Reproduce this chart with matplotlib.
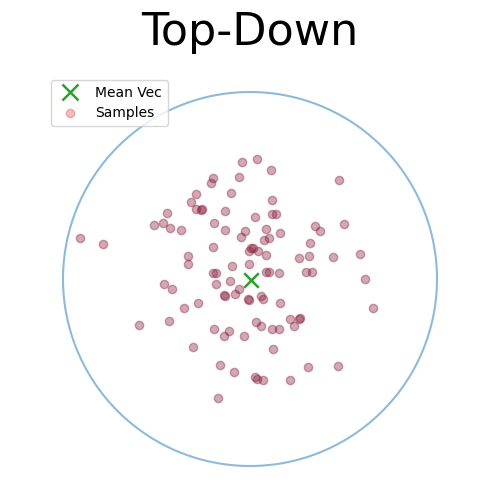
import numpy as np
import matplotlib
matplotlib.use("Agg")
import matplotlib.pyplot as plt
from matplotlib.lines import Line2D

# Sample positions (unit-circle coordinates, top-down projection)
sample_x = [-0.044, 0.036, 0.111, -0.199, -0.207, -0.057, 0.476, -0.287, -0.100, -0.316,
            0.119, -0.290, -0.262, -0.257, -0.135, -0.445, 0.116, 0.141, 0.028, 0.504,
            -0.464, -0.513, -0.426, -0.371, -0.194, 0.346, 0.376, 0.087, -0.025, -0.135,
            0.160, -0.907, -0.784, -0.050, 0.100, 0.076, 0.322, -0.199, 0.018, 0.008,
            0.044, -0.004, -0.330, -0.330, 0.086, 0.264, 0.317, 0.445, 0.590, -0.005,
            -0.098, -0.199, -0.180, 0.086, 0.104, 0.153, 0.298, 0.332, 0.617, -0.183,
            -0.105, -0.458, -0.417, -0.057, -0.139, -0.134, -0.080, -0.009, -0.006, 0.059,
            0.071, -0.276, 0.160, -0.351, 0.659, 0.216, 0.264, 0.266, -0.592, -0.432,
            0.032, 0.057, 0.119, 0.157, 0.237, -0.194, -0.111, -0.141, -0.030, -0.303,
            0.125, -0.159, -0.084, 0.027, 0.036, 0.071, 0.216, 0.312, 0.472, -0.170]
sample_y = [0.624, 0.640, 0.583, 0.540, 0.512, 0.544, 0.528, 0.455, 0.458, 0.410,
            0.421, 0.373, 0.367, 0.372, 0.362, 0.351, 0.348, 0.348, 0.330, 0.293,
            0.298, 0.287, 0.271, 0.262, 0.298, 0.282, 0.255, 0.269, 0.255, 0.262,
            0.244, 0.218, 0.186, 0.223, 0.218, 0.209, 0.191, 0.173, 0.164, 0.168,
            0.150, 0.151, 0.123, 0.079, 0.127, 0.113, 0.123, 0.118, 0.132, 0.080,
            0.070, 0.032, 0.034, 0.036, 0.036, 0.030, 0.036, 0.036, -0.002, -0.028,
            -0.012, -0.028, -0.055, -0.053, -0.083, -0.091, -0.082, -0.109, -0.111, -0.089,
            -0.109, -0.128, -0.130, -0.157, -0.157, -0.216, -0.214, -0.211, -0.248, -0.225,
            -0.230, -0.250, -0.269, -0.269, -0.251, -0.267, -0.278, -0.306, -0.306, -0.365,
            -0.376, -0.461, -0.499, -0.526, -0.536, -0.542, -0.542, -0.472, -0.467, -0.638]

mean_vec = [0.003, -0.005]

fig = plt.figure(figsize=(5, 5), dpi=100)
ax = fig.add_axes([0.0886, 0.0306, 0.8228, 0.8228])

theta = np.linspace(0, 2 * np.pi, 400)
ax.plot(np.cos(theta), np.sin(theta), color="tab:blue", alpha=0.5, lw=1.5)

ax.scatter(sample_x, sample_y, s=36, color="#861a38", alpha=0.38, zorder=3)
ax.scatter([mean_vec[0]], [mean_vec[1]], marker="x", s=110, color="tab:green",
           linewidths=1.8, zorder=4)

ax.set_xlim(-1.1, 1.1)
ax.set_ylim(-1.1, 1.1)
ax.set_aspect("equal")
ax.axis("off")

fig.text(0.5, 0.935, "Top-Down", ha="center", va="center", fontsize=32)

handles = [
    Line2D([], [], marker="x", ls="none", color="tab:green", markersize=11, mew=1.8),
    Line2D([], [], marker="o", ls="none", color="tab:red", alpha=0.3, markersize=6),
]
fig.legend(handles, ["Mean Vec", "Samples"], loc="upper left",
           bbox_to_anchor=(0.102, 0.840), borderaxespad=0)

fig.savefig("out.png", dpi=100)
